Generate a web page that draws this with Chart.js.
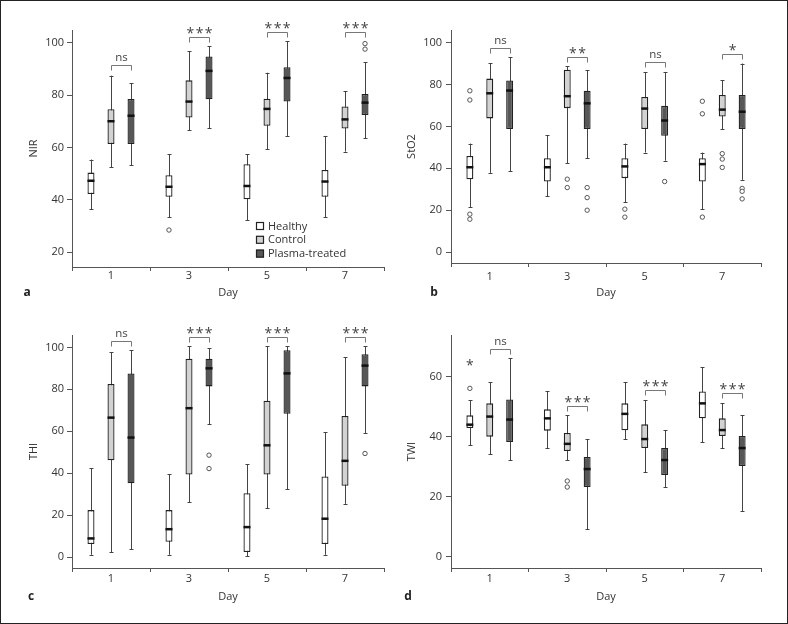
<!DOCTYPE html>
<html>
<head>
<meta charset="utf-8">
<script src="https://cdn.jsdelivr.net/npm/chart.js@4/dist/chart.umd.min.js"></script>
<style>
  body { margin: 0; background: #fff; }
  #fig { position: relative; width: 788px; height: 624px; }
  #fig canvas { position: absolute; }
  #frame { position: absolute; left: 0; top: 0; width: 788px; height: 624px; box-sizing: border-box; border: 1px solid #222; pointer-events: none; }
</style>
</head>
<body>
<div id="fig">
  <canvas id="pa" width="394" height="312" style="left:0;top:0"></canvas>
  <canvas id="pb" width="394" height="312" style="left:394px;top:0"></canvas>
  <canvas id="pc" width="394" height="312" style="left:0;top:312px"></canvas>
  <canvas id="pd" width="394" height="312" style="left:394px;top:312px"></canvas>
  <div id="frame"></div>
</div>
<script>
// dias y grupos
const days = ['1', '3', '5', '7'];
const groups = ['Healthy', 'Control', 'Plasma-treated'];

// cada caja: [min, q1, mediana, q3, max] por dia
// a) NIR
const nirHealthy = [[36.4, 42.2, 47.3, 50.4, 55.4], [33.4, 41.2, 45, 49.4, 57.4], [32.3, 40.2, 45.3, 53.6, 57.4], [33.4, 41.2, 47, 51.4, 64.4]];
const nirControl = [[52.4, 61.3, 70, 74.6, 87.4], [66.5, 71.4, 77.5, 85.6, 96.7], [59.4, 68.3, 74.7, 78.6, 88.5], [58.4, 67.2, 70.7, 75.6, 81.4]];
const nirPlasma = [[53.2, 61.3, 72.1, 78.5, 84.5], [67.3, 78.4, 89.2, 94.7, 98.6], [64.4, 77.5, 86.5, 90.6, 100.6], [63.5, 72.4, 77.1, 80.4, 92.6]];
const nirHealthyOut = [[], [28.5], [], []];
const nirControlOut = [[], [], [], []];
const nirPlasmaOut = [[], [], [], [99.6, 97.5]];
const nirTicks = [20, 40, 60, 80, 100];
const nirSigText = ['ns', '***', '***', '***'];
const nirSigAt = [91.3, 102.3, 104.2, 104];

// b) StO2
const stoHealthy = [[21.5, 34.8, 40.5, 45.9, 51.8], [26.7, 33.7, 40.5, 44.8, 55.8], [23.7, 35.3, 40.9, 44.8, 51.8], [20.5, 33.7, 42, 44.8, 47.5]];
const stoControl = [[37.8, 63.8, 75.8, 82.8, 90.1], [42.4, 68.7, 74.4, 87, 88.6], [47.5, 58.7, 68.5, 74, 85.9], [58.7, 64.7, 68, 75, 82]];
const stoPlasma = [[38.5, 58.7, 77.1, 81.9, 93], [44.8, 58.7, 71, 77, 86.8], [43.6, 55.5, 62.8, 69.8, 85.9], [34.5, 58.7, 67, 75, 90]];
const stoHealthyOut = [[77, 72.6, 18.1, 15.7], [], [20.5, 16.7], [72, 66, 16.7]];
const stoControlOut = [[], [34.8, 30.8], [], [47, 44.4, 40.4]];
const stoPlasmaOut = [[], [30.8, 26, 20], [33.7], [30.4, 29, 25.4]];
const stoTicks = [0, 20, 40, 60, 80, 100];
const stoSigText = ['ns', '**', 'ns', '*'];
const stoSigAt = [97.3, 93.3, 90.6, 94.4];

// c) THI
const thiHealthy = [[1.1, 6.2, 8.9, 22.4, 42.4], [1.1, 7.3, 13.3, 22.4, 39.5], [0.3, 2.4, 14.3, 30.5, 44.3], [1.1, 6.2, 18.3, 38.4, 59.5]];
const thiControl = [[2.4, 46.2, 66.5, 82.5, 97.6], [26.2, 39.4, 71, 94.6, 100.5], [23.2, 39.4, 53.3, 74.6, 100.5], [25.4, 34, 45.9, 67.3, 95.2]];
const thiPlasma = [[3.8, 35.2, 57, 87.6, 98.6], [63.3, 81.4, 90, 94.6, 99.5], [32.4, 68.3, 87.6, 98.6, 100.5], [59.2, 81.4, 91.3, 96.7, 100.5]];
const thiHealthyOut = [[], [], [], []];
const thiControlOut = [[], [], [], []];
const thiPlasmaOut = [[], [48.6, 42.2], [], [49.4]];
const thiTicks = [0, 20, 40, 60, 80, 100];
const thiSigText = ['ns', '***', '***', '***'];
const thiSigAt = [103, 105, 105, 105];

// d) TWI
const twiHealthy = [[37.3, 43, 44.1, 47.2, 52.2], [36.3, 42.1, 46.2, 49.2, 55.2], [39.3, 42.2, 47.7, 51.2, 58.2], [38.3, 46.2, 51.2, 55.2, 63.2]];
const twiControl = [[34.3, 40.1, 46.8, 51.2, 58.2], [32.3, 35.3, 37.7, 41.3, 47.2], [28.3, 36.3, 39.3, 44.2, 52.2], [36.3, 40.3, 42.3, 46.2, 51.2]];
const twiPlasma = [[32.3, 38.3, 45.8, 52.5, 66.2], [9.3, 23.3, 29.3, 33.3, 39.3], [23.3, 27.3, 32.3, 36.3, 42.3], [15.3, 30.3, 36.3, 40.3, 47.2]];
const twiHealthyOut = [[56.2], [], [], []];
const twiControlOut = [[], [25.3, 23.3], [], []];
const twiPlasmaOut = [[], [], [], []];
const twiTicks = [0, 20, 40, 60];
const twiSigText = ['ns', '***', '***', '***'];
const twiSigAt = [69.2, 50.3, 55.6, 54.6];
const twiHealthyStar = ['*', '', '', ''];   // estrella suelta sobre Healthy dia 1
const twiHealthyStarAt = [65.1, null, null, null];

const fills = ['#ffffff', '#d2d2d2', '#575757'];
const FONT = "'Open Sans', 'Noto Sans', sans-serif";

function px(v) { return Math.round(v) + 0.5; }

// plugin para bigotes, medianas, atipicos, corchetes y leyenda
const boxPlot = {
  id: 'boxPlot',
  beforeDatasetsDraw(chart) {
    const ctx = chart.ctx, y = chart.scales.y;
    ctx.save();
    ctx.strokeStyle = '#444';
    ctx.lineWidth = 1;
    chart.data.datasets.forEach((ds, i) => {
      chart.getDatasetMeta(i).data.forEach((bar, j) => {
        const s = ds.stats[j];
        const x = px(bar.x);
        const yMin = y.getPixelForValue(s[0]), yMax = y.getPixelForValue(s[4]);
        ctx.beginPath();
        ctx.moveTo(x, yMin); ctx.lineTo(x, yMax);
        ctx.moveTo(x - 2, px(yMin)); ctx.lineTo(x + 2, px(yMin));
        ctx.moveTo(x - 2, px(yMax)); ctx.lineTo(x + 2, px(yMax));
        ctx.stroke();
      });
    });
    ctx.restore();
  },
  afterDatasetsDraw(chart) {
    const ctx = chart.ctx, y = chart.scales.y;
    ctx.save();
    chart.data.datasets.forEach((ds, i) => {
      chart.getDatasetMeta(i).data.forEach((bar, j) => {
        const s = ds.stats[j];
        const ym = y.getPixelForValue(s[2]);
        ctx.strokeStyle = '#111';
        ctx.lineWidth = 2.5;
        ctx.beginPath();
        ctx.moveTo(bar.x - bar.width / 2, ym);
        ctx.lineTo(bar.x + bar.width / 2, ym);
        ctx.stroke();
        ctx.lineWidth = 1;
        ctx.strokeStyle = '#555';
        ctx.fillStyle = '#fff';
        ds.outliers[j].forEach(v => {
          ctx.beginPath();
          ctx.arc(bar.x, y.getPixelForValue(v), 2.2, 0, Math.PI * 2);
          ctx.fill();
          ctx.stroke();
        });
      });
    });
    ctx.restore();
  },
  afterDraw(chart, args, opts) {
    const ctx = chart.ctx, y = chart.scales.y;
    const m1 = chart.getDatasetMeta(1).data, m2 = chart.getDatasetMeta(2).data;
    ctx.save();
    // corchetes de significancia
    opts.sigAt.forEach((v, j) => {
      const yb = px(y.getPixelForValue(v));
      const x1 = px(m1[j].x), x2 = px(m2[j].x);
      ctx.strokeStyle = '#777';
      ctx.lineWidth = 1;
      ctx.beginPath();
      ctx.moveTo(x1, yb + 5); ctx.lineTo(x1, yb); ctx.lineTo(x2, yb); ctx.lineTo(x2, yb + 5);
      ctx.stroke();
      drawSig(ctx, opts.sigText[j], (x1 + x2) / 2, yb - 8);
    });
    if (opts.star) {
      const m0 = chart.getDatasetMeta(0).data;
      opts.star.forEach((t, j) => {
        if (t) drawSig(ctx, t, m0[j].x, y.getPixelForValue(opts.starAt[j]));
      });
    }
    // leyenda
    if (opts.legend) {
      const L = opts.legend;
      chart.data.datasets.forEach((ds, i) => {
        const cy = L.y + i * L.step;
        ctx.fillStyle = ds.backgroundColor;
        ctx.fillRect(L.x, cy - 4, 8, 8);
        ctx.strokeStyle = '#222';
        ctx.lineWidth = 1.2;
        ctx.strokeRect(L.x + 0.5, cy - 3.5, 7, 7);
        ctx.fillStyle = '#333';
        ctx.font = '11px ' + FONT;
        ctx.textAlign = 'left';
        ctx.textBaseline = 'middle';
        ctx.fillText(ds.label, L.x + 12, cy + 0.5);
      });
    }
    // letra del panel
    ctx.fillStyle = '#222';
    ctx.font = 'bold 12px ' + FONT;
    ctx.textAlign = 'center';
    ctx.textBaseline = 'middle';
    ctx.fillText(opts.letter[0], opts.letter[1], opts.letter[2]);
    ctx.restore();
  }
};

function drawSig(ctx, t, x, cy) {
  ctx.fillStyle = '#444';
  ctx.textAlign = 'center';
  ctx.textBaseline = 'alphabetic';
  if (t === 'ns') {
    ctx.font = '11.5px ' + FONT;
    ctx.fillText(t, x, cy + 3);
  } else {
    ctx.font = '14px ' + FONT;
    ctx.fillText(t.split('').join(String.fromCharCode(8202)), x, cy + 8);
  }
}

function makePanel(id, p) {
  const datasets = [p.healthy, p.control, p.plasma].map((b, i) => ({
    label: groups[i],
    data: b.map(s => [s[1], s[3]]),
    stats: b,
    outliers: p.outs[i],
    backgroundColor: fills[i],
    borderColor: '#222',
    borderWidth: 1.3,
    borderSkipped: false,
    categoryPercentage: 0.77,
    barPercentage: 0.35
  }));
  return new Chart(document.getElementById(id), {
    type: 'bar',
    data: { labels: days, datasets },
    plugins: [boxPlot],
    options: {
      responsive: false,
      animation: false,
      events: [],
      layout: { padding: p.pad },
      plugins: {
        legend: { display: false },
        tooltip: { enabled: false },
        boxPlot: { sigText: p.sigText, sigAt: p.sigAt, star: p.star, starAt: p.starAt, legend: p.legend, letter: p.letter }
      },
      scales: {
        x: {
          afterFit: s => { s.height = p.xH; },
          grid: { drawOnChartArea: false, drawTicks: true, tickLength: 4, color: '#555', offset: true },
          border: { color: '#555', width: 1 },
          ticks: { color: '#333', font: { family: FONT, size: 11 }, padding: p.xTickPad },
          title: { display: true, text: 'Day', color: '#333', font: { family: FONT, size: 11 }, padding: { top: 0, bottom: p.xTitlePad } }
        },
        y: {
          min: p.yMin,
          max: p.yMax,
          afterFit: s => { s.width = p.yW; },
          afterBuildTicks: s => { s.ticks = p.ticks.map(v => ({ value: v })); },
          grid: { drawOnChartArea: false, drawTicks: true, tickLength: 5, color: '#555' },
          border: { color: '#555', width: 1 },
          ticks: { color: '#333', font: { family: FONT, size: 11 }, padding: p.yTickPad },
          title: { display: true, text: p.yTitle, color: '#333', font: { family: FONT, size: 11 }, padding: { top: p.yTitlePad, bottom: 0 } }
        }
      }
    }
  });
}

makePanel('pa', {
  healthy: nirHealthy, control: nirControl, plasma: nirPlasma,
  outs: [nirHealthyOut, nirControlOut, nirPlasmaOut],
  ticks: nirTicks, yMin: 14.4, yMax: 104.8, yTitle: 'NIR',
  sigText: nirSigText, sigAt: nirSigAt,
  pad: { top: 30, right: 10, left: 0, bottom: 0 }, yW: 72, xH: 45,
  yTitlePad: 27, xTitlePad: 12.7, xTickPad: -2, yTickPad: 3,
  legend: { x: 256, y: 226, step: 13.8 },
  letter: ['a', 27, 292.7]
});
makePanel('pb', {
  healthy: stoHealthy, control: stoControl, plasma: stoPlasma,
  outs: [stoHealthyOut, stoControlOut, stoPlasmaOut],
  ticks: stoTicks, yMin: -5.2, yMax: 106, yTitle: 'StO2',
  sigText: stoSigText, sigAt: stoSigAt,
  pad: { top: 30, right: 27, left: 0, bottom: 0 }, yW: 57, xH: 49,
  yTitlePad: 11.7, xTitlePad: 12.7, xTickPad: 3, yTickPad: 4,
  letter: ['b', 40, 292.7]
});
makePanel('pc', {
  healthy: thiHealthy, control: thiControl, plasma: thiPlasma,
  outs: [thiHealthyOut, thiControlOut, thiPlasmaOut],
  ticks: thiTicks, yMin: -5.2, yMax: 105.9, yTitle: 'THI',
  sigText: thiSigText, sigAt: thiSigAt,
  pad: { top: 23, right: 10, left: 0, bottom: 0 }, yW: 72, xH: 56,
  yTitlePad: 27, xTitlePad: 20.7, xTickPad: 0, yTickPad: 3,
  letter: ['c', 31, 284.7]
});
makePanel('pd', {
  healthy: twiHealthy, control: twiControl, plasma: twiPlasma,
  outs: [twiHealthyOut, twiControlOut, twiPlasmaOut],
  ticks: twiTicks, yMin: -3.7, yMax: 74, yTitle: 'TWI',
  sigText: twiSigText, sigAt: twiSigAt,
  star: twiHealthyStar, starAt: twiHealthyStarAt,
  pad: { top: 23, right: 27, left: 0, bottom: 0 }, yW: 57, xH: 56,
  yTitlePad: 11.7, xTitlePad: 20.7, xTickPad: 0, yTickPad: 4,
  letter: ['d', 14, 284.7]
});
</script>
</body>
</html>
